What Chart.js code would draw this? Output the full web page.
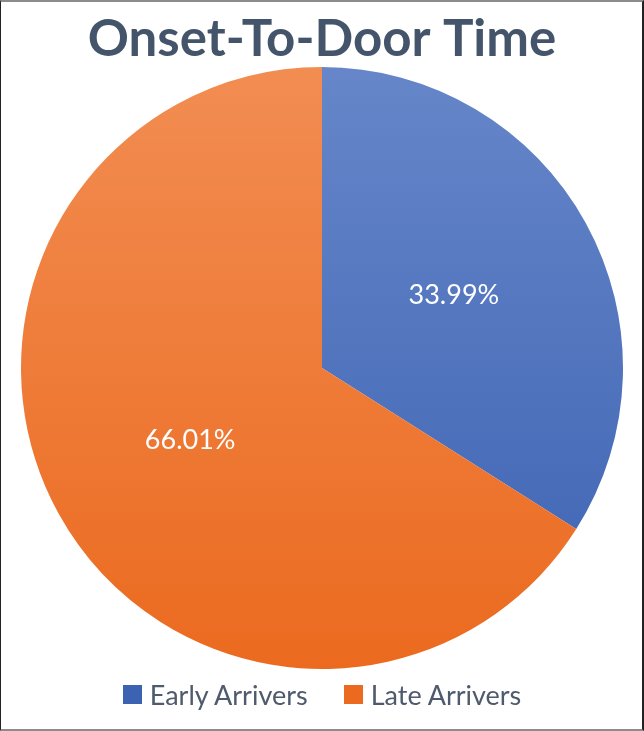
<!DOCTYPE html>
<html>
<head>
<meta charset="utf-8">
<script src="https://cdn.jsdelivr.net/npm/chart.js@4.4.1/dist/chart.umd.min.js"></script>
<style>
  html, body { margin: 0; padding: 0; background: #fff; }
  #wrap { position: relative; width: 644px; height: 731px; }
  #frame {
    position: absolute; left: 0; top: 0; width: 644px; height: 731px;
    box-sizing: border-box; pointer-events: none;
    border-top: 2px solid #8c8c8c; border-bottom: 2px solid #8c8c8c;
    border-left: 1px solid #222; border-right: 2px solid #222;
  }
  #legend {
    position: absolute; left: 0; top: 678px; width: 644px;
    display: flex; justify-content: center; gap: 36px;
    font-family: Lato, sans-serif; font-size: 27px; color: #4f5a6c;
  }
  #legend .item { display: flex; align-items: center; }
  #legend .box { width: 19px; height: 19px; margin-right: 8px; }
</style>
</head>
<body>
<div id="wrap">
  <canvas id="pie" width="644" height="731"></canvas>
  <div id="legend"></div>
  <div id="frame"></div>
</div>
<script>
const categories = ['Early Arrivers', 'Late Arrivers'];
const shares = [33.99, 66.01];
const topColors = ['#6686c9', '#f28d52'];
const bottomColors = ['#3c62b2', '#eb6a1f'];

function sliceFill(c) {
  const area = c.chart.chartArea;
  if (!area) return bottomColors[c.dataIndex];
  const g = c.chart.ctx.createLinearGradient(0, area.top, 0, area.bottom);
  g.addColorStop(0, topColors[c.dataIndex]);
  g.addColorStop(1, bottomColors[c.dataIndex]);
  return g;
}

// white percentage labels in the middle of each slice
const sliceLabels = {
  id: 'sliceLabels',
  afterDatasetsDraw(chart) {
    const ctx = chart.ctx;
    const meta = chart.getDatasetMeta(0);
    ctx.save();
    ctx.fillStyle = '#ffffff';
    ctx.font = '27px Lato, sans-serif';
    ctx.textAlign = 'center';
    ctx.textBaseline = 'middle';
    meta.data.forEach((arc, i) => {
      const p = arc.tooltipPosition();
      ctx.fillText(shares[i].toFixed(2) + '%', p.x, p.y);
    });
    ctx.restore();
  }
};

const chart = new Chart(document.getElementById('pie'), {
  type: 'pie',
  data: {
    labels: categories,
    datasets: [{
      data: shares,
      backgroundColor: sliceFill,
      borderWidth: 0,
      hoverOffset: 0
    }]
  },
  options: {
    responsive: false,
    animation: false,
    events: [],
    layout: { padding: { bottom: 62 } },
    plugins: {
      legend: { display: false },
      tooltip: { enabled: false },
      title: {
        display: true,
        text: 'Onset-To-Door Time',
        color: '#44546a',
        font: { family: 'Lato, sans-serif', size: 51, weight: 'bold', lineHeight: 1 },
        padding: { top: 14, bottom: 2 }
      }
    }
  },
  plugins: [sliceLabels]
});

document.getElementById('legend').innerHTML = categories.map((name, i) => `
  <div class="item"><span class="box" style="background:${bottomColors[i]}"></span>${name}</div>
`).join('');
</script>
</body>
</html>
